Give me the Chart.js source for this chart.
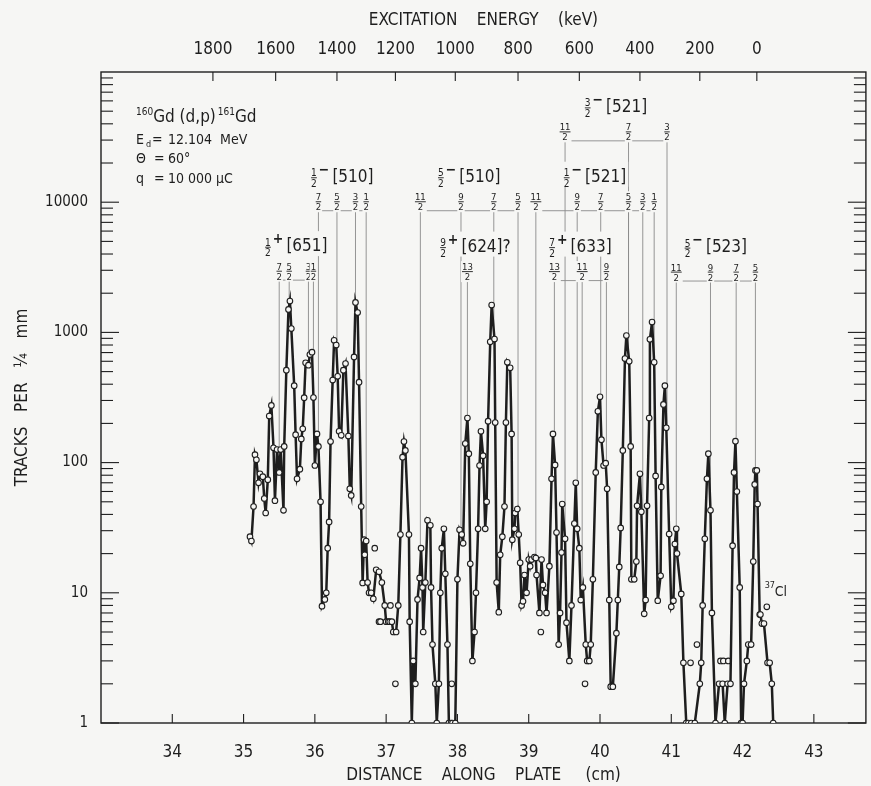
<!DOCTYPE html>
<html>
<head>
<meta charset="utf-8">
<title>160Gd(d,p)161Gd spectrum</title>
<script src="https://cdn.jsdelivr.net/npm/chart.js@4.4.1/dist/chart.umd.min.js"></script>
<style>
  html, body { margin: 0; padding: 0; background: #f6f6f4; }
  #wrap { width: 871px; height: 786px; position: relative; }
</style>
</head>
<body>
<div id="wrap"><canvas id="spectrum"></canvas></div>
<script>
// proton spectrum, counts per 1/4 mm strip of the plate
const plateCm = [
  35.09, 35.11, 35.14, 35.16, 35.18, 35.21, 35.23, 35.27, 35.29, 35.31, 35.34, 35.36, 35.39, 35.42, 35.44,
  35.47, 35.50, 35.52, 35.56, 35.57, 35.60, 35.63, 35.65, 35.67, 35.71, 35.73, 35.75, 35.79, 35.81, 35.83,
  35.85, 35.87, 35.91, 35.93, 35.96, 35.98, 36.00, 36.03, 36.05, 36.08, 36.10, 36.14, 36.16, 36.18, 36.20,
  36.22, 36.25, 36.27, 36.30, 36.32, 36.34, 36.37, 36.40, 36.43, 36.47, 36.49, 36.51, 36.55, 36.57, 36.60,
  36.62, 36.65, 36.67, 36.69, 36.70, 36.72, 36.74, 36.76, 36.79, 36.82, 36.86, 36.90, 36.94, 36.98, 37.00,
  37.03, 37.05, 37.08, 37.10, 37.14, 37.17, 37.20, 37.23, 37.25, 37.27, 37.32, 37.33, 37.36, 37.38, 37.41,
  37.44, 37.47, 37.49, 37.51, 37.52, 37.55, 37.58, 37.62, 37.63, 37.65, 37.69, 37.71, 37.74, 37.76, 37.78,
  37.81, 37.83, 37.86, 37.88, 37.91, 37.93, 37.97, 38.00, 38.03, 38.06, 38.08, 38.11, 38.14, 38.16, 38.18,
  38.21, 38.24, 38.26, 38.29, 38.31, 38.33, 38.36, 38.39, 38.41, 38.43, 38.46, 38.48, 38.52, 38.53, 38.55,
  38.58, 38.60, 38.63, 38.66, 38.68, 38.70, 38.74, 38.76, 38.77, 38.80, 38.81, 38.84, 38.86, 38.88, 38.90,
  38.92, 38.94, 38.97, 39.00, 39.02, 39.04, 39.08, 39.10, 39.11, 39.15, 39.18, 39.20, 39.23, 39.25, 39.29,
  39.32, 39.34, 39.37, 39.39, 39.42, 39.44, 39.46, 39.47, 39.51, 39.53, 39.57, 39.60, 39.64, 39.66, 39.68,
  39.71, 39.73, 39.76, 39.80, 39.82, 39.85, 39.87, 39.90, 39.94, 39.97, 40.00, 40.02, 40.05, 40.08, 40.10,
  40.13, 40.15, 40.18, 40.23, 40.25, 40.27, 40.29, 40.32, 40.35, 40.37, 40.41, 40.43, 40.44, 40.48, 40.51,
  40.52, 40.56, 40.58, 40.62, 40.64, 40.66, 40.69, 40.70, 40.73, 40.76, 40.78, 40.81, 40.85, 40.86, 40.89,
  40.91, 40.93, 40.97, 41.00, 41.03, 41.05, 41.07, 41.08, 41.14, 41.17, 41.21, 41.24, 41.28, 41.33, 41.40,
  41.42, 41.44, 41.47, 41.50, 41.52, 41.55, 41.57, 41.62, 41.67, 41.72, 41.75, 41.79, 41.83, 41.86, 41.88,
  41.90, 41.92, 41.96, 41.98, 42.00, 42.02, 42.06, 42.08, 42.12, 42.15, 42.17, 42.18, 42.20, 42.21, 42.24,
  42.25, 42.27, 42.30, 42.35, 42.38, 42.41, 42.43
];
const tracks = [
  27, 25, 46, 115, 105, 70, 82, 78, 53, 41, 74, 228, 275, 130, 51,
  126, 84, 126, 43, 133, 513, 1500, 1740, 1070, 390, 164, 75, 89, 152, 182,
  315, 584, 560, 676, 705, 316, 95, 166, 133, 50, 7.9, 8.9, 10, 22, 35,
  145, 430, 870, 800, 460, 174, 162, 513, 576, 160, 63, 56, 648, 1700, 1420,
  415, 46, 11.9, 25.6, 19.6, 25, 12, 10, 10, 9, 15, 14.5, 12, 8, 6,
  6, 6, 6, 5, 5, 8, 28, 110, 145, 124, 28, 6, 1, 3, 2,
  8.9, 13, 22, 11, 5, 12, 36, 33, 11, 4, 2, 1, 2, 10, 22,
  31, 14, 4, 1, 1, 1, 1, 12.7, 30.5, 28, 24, 140, 220, 117, 16.7,
  3, 5, 10, 31, 95, 174, 113, 31, 50, 208, 846, 1620, 890, 203, 12,
  7.1, 19.6, 27, 46, 203, 590, 535, 166, 25.6, 31, 41, 44, 28, 17, 8,
  8.6, 13.7, 10, 18, 16, 18, 18.8, 18.5, 13.7, 7, 18, 11.5, 10, 7, 16,
  75, 166, 96, 29, 4, 7, 20.4, 48, 26, 5.9, 3, 8, 34, 70, 31,
  22, 8.8, 11, 4, 3, 3, 4, 12.7, 84, 248, 320, 150, 95, 99, 63,
  8.8, 1.9, 1.9, 4.9, 8.8, 15.8, 31.5, 124, 630, 945, 600, 133, 12.7, 12.7, 17.4,
  46.6, 82, 42, 6.9, 8.8, 46.6, 220, 886, 1200, 590, 79, 8.7, 13.5, 65, 280,
  390, 185, 28.3, 7.8, 8.7, 23.7, 31, 20, 9.8, 2.9, 1, 1, 1, 1, 2,
  2.9, 8, 26, 75, 117, 43, 7, 1, 2, 2, 1, 2, 2, 23, 84,
  146, 60, 11, 1, 1, 2, 3, 4, 4, 17.4, 68, 87, 87, 48, 6.8,
  6.8, 5.8, 5.8, 2.9, 2.9, 2, 1
];
// single counts plotted without a connecting line
const strayCm = [36.84, 36.90, 36.92, 37.06, 37.13, 37.92, 39.17, 39.79, 41.27, 41.36, 41.69, 41.73, 41.80, 42.34];
const strayTracks = [22, 6, 6, 8, 2, 2, 5, 2, 2.9, 4, 3, 3, 3, 7.8];

const distanceTicks = [34, 35, 36, 37, 38, 39, 40, 41, 42, 43];
const energyTicks = [1800, 1600, 1400, 1200, 1000, 800, 600, 400, 200, 0];
const energyTickCm = [34.57, 35.45, 36.31, 37.13, 37.97, 38.85, 39.71, 40.56, 41.40, 42.20];
const trackTicks = [1, 10, 100, 1000, 10000];

// rotational bands: K, parity, Nilsson label, level positions and spins
const bandK = ['1/2', '1/2', '5/2', '9/2', '1/2', '3/2', '7/2', '5/2'];
const bandParity = ['+', '\u2212', '\u2212', '+', '\u2212', '\u2212', '+', '\u2212'];
const bandNilsson = ['[651]', '[510]', '[510]', '[624]?', '[521]', '[521]', '[633]', '[523]'];
const bandBarTracks = [2520, 8600, 8600, 2500, 8600, 29600, 2500, 2480];
const bandLevelCm = [
  [35.50, 35.64, 35.91, 35.98],
  [36.05, 36.31, 36.57, 36.72],
  [37.48, 38.05, 38.51, 38.85],
  [38.14],
  [39.10, 39.68, 40.01, 40.40, 40.60, 40.76],
  [39.51, 40.40, 40.94],
  [39.36, 39.75, 40.09],
  [41.07, 41.55, 41.91, 42.18]
];
const bandSpins = [
  ['7/2', '5/2', '3/2', '1/2'],
  ['7/2', '5/2', '3/2', '1/2'],
  ['11/2', '9/2', '7/2', '5/2'],
  ['13/2'],
  ['11/2', '9/2', '7/2', '5/2', '3/2', '1/2'],
  ['11/2', '7/2', '3/2'],
  ['13/2', '11/2', '9/2'],
  ['11/2', '9/2', '7/2', '5/2']
];
const clLabelCm = 42.31;
const clLabelTracks = 10.5;

const ink = '#1e1e1e';
const paper = '#f6f6f4';
const guide = '#8a8a8a';
const face = "'DejaVu Sans Condensed', 'DejaVu Sans', sans-serif";
const axisFont = { family: face, size: 17 };
const valueFont = { family: face, size: 15 };

function line(ctx, x1, y1, x2, y2) {
  ctx.beginPath();
  ctx.moveTo(x1, y1);
  ctx.lineTo(x2, y2);
  ctx.stroke();
}

// highest count within one strip of a level position
function peakNear(cm) {
  let best = null, nearest = 0, gap = Infinity;
  plateCm.forEach((v, i) => {
    const d = Math.abs(v - cm);
    if (d <= 0.026 && (best === null || tracks[i] > best)) best = tracks[i];
    if (d < gap) { gap = d; nearest = tracks[i]; }
  });
  return best === null ? nearest : best;
}

function drawFraction(ctx, text, cx, cy, size, mask) {
  const [num, den] = text.split('/');
  ctx.font = `${size}px ${face}`;
  const w = Math.max(ctx.measureText(num).width, ctx.measureText(den).width);
  if (mask) {
    ctx.fillStyle = paper;
    ctx.fillRect(cx - w / 2 - 1, cy - size - 1, w + 2, size * 2 + 2);
  }
  ctx.fillStyle = ink;
  ctx.textAlign = 'center';
  ctx.textBaseline = 'alphabetic';
  ctx.fillText(num, cx, cy - 1.5);
  ctx.fillRect(cx - w / 2, cy - 0.4, w, 0.9);
  ctx.fillText(den, cx, cy + size * 0.75 + 1.5);
  return w;
}

function drawBandTitle(ctx, k, parity, nilsson, cx, cy) {
  ctx.font = `10px ${face}`;
  const [n, d] = k.split('/');
  const fw = Math.max(ctx.measureText(n).width, ctx.measureText(d).width);
  ctx.font = `bold 14px ${face}`;
  const pw = ctx.measureText(parity).width;
  ctx.font = `17px ${face}`;
  const nw = ctx.measureText(nilsson).width;
  const total = fw + pw + nw + 5;
  const x0 = cx - total / 2;
  ctx.fillStyle = paper;
  ctx.fillRect(x0 - 2, cy - 13, total + 4, 25);
  drawFraction(ctx, k, x0 + fw / 2, cy + 3, 10, false);
  ctx.textAlign = 'left';
  ctx.font = `bold 14px ${face}`;
  ctx.fillText(parity, x0 + fw + 2, cy - 1);
  ctx.font = `17px ${face}`;
  ctx.fillText(nilsson, x0 + fw + pw + 5, cy + 7);
}

const platePlugin = {
  id: 'plate',
  beforeDraw(chart) {
    const { ctx, width, height } = chart;
    ctx.save();
    ctx.fillStyle = paper;
    ctx.fillRect(0, 0, width, height);
    ctx.restore();
  },
  beforeDatasetsDraw(chart) {
    const { ctx, chartArea } = chart;
    const { left, right, top, bottom } = chartArea;
    const x = chart.scales.x, xt = chart.scales.xTop, y = chart.scales.y;
    ctx.save();
    ctx.strokeStyle = ink;
    ctx.lineWidth = 1.4;
    ctx.strokeRect(left, top, right - left, bottom - top);

    // inward tick marks on all four sides
    ctx.lineWidth = 1.1;
    distanceTicks.forEach(v => {
      const px = x.getPixelForValue(v);
      line(ctx, px, bottom, px, bottom - 9);
    });
    energyTickCm.forEach(v => {
      const px = xt.getPixelForValue(v);
      line(ctx, px, top, px, top + 9);
    });
    for (let d = 1; d < 1e5; d *= 10) {
      for (let m = 1; m <= 9; m++) {
        const py = y.getPixelForValue(d * m);
        const len = m === 1 ? 18 : 12;
        line(ctx, left, py, left + len, py);
        line(ctx, right, py, right - len, py);
      }
    }

    // level markers: bar over each band and a drop line to its peak
    ctx.strokeStyle = guide;
    ctx.lineWidth = 0.9;
    bandLevelCm.forEach((levels, b) => {
      const barPx = y.getPixelForValue(bandBarTracks[b]);
      const pxs = levels.map(v => x.getPixelForValue(v));
      if (pxs.length > 1) line(ctx, Math.min(...pxs), barPx, Math.max(...pxs), barPx);
      levels.forEach((v, i) => {
        const py = y.getPixelForValue(peakNear(v)) - 3;
        line(ctx, pxs[i], barPx, pxs[i], py);
      });
    });
    ctx.restore();
  },
  afterDatasetsDraw(chart) {
    const { ctx, chartArea } = chart;
    const x = chart.scales.x, y = chart.scales.y;
    ctx.save();
    bandLevelCm.forEach((levels, b) => {
      const barPx = y.getPixelForValue(bandBarTracks[b]);
      const pxs = levels.map(v => x.getPixelForValue(v));
      levels.forEach((v, i) => drawFraction(ctx, bandSpins[b][i], pxs[i], barPx - 9, 9.5, true));
      let cx = (Math.min(...pxs) + Math.max(...pxs)) / 2;
      if (pxs.length === 1) cx += 8;
      drawBandTitle(ctx, bandK[b], bandParity[b], bandNilsson[b], cx, barPx - 36);
    });

    // reaction and run conditions
    const tx = chartArea.left + 35;
    const ty = chartArea.top + 50;
    ctx.fillStyle = ink;
    ctx.textAlign = 'left';
    ctx.textBaseline = 'alphabetic';
    let cx = tx;
    const piece = (text, size, dy) => {
      ctx.font = `${size}px ${face}`;
      ctx.fillText(text, cx, ty + dy);
      cx += ctx.measureText(text).width;
    };
    piece('160', 10, -7);
    piece('Gd (d,p)', 17, 0);
    cx += 2;
    piece('161', 10, -7);
    piece('Gd', 17, 0);

    ctx.font = `14px ${face}`;
    ctx.fillText('E', tx, ty + 22);
    ctx.font = `9px ${face}`;
    ctx.fillText('d', tx + 10, ty + 25);
    ctx.font = `14px ${face}`;
    ctx.fillText('=', tx + 16, ty + 22);
    ctx.fillText('12.104  MeV', tx + 32, ty + 22);
    ctx.fillText('\u0398', tx, ty + 41);
    ctx.fillText('=', tx + 18, ty + 41);
    ctx.fillText('60\u00b0', tx + 32, ty + 41);
    ctx.fillText('q', tx, ty + 61);
    ctx.fillText('=', tx + 18, ty + 61);
    ctx.fillText('10 000 \u00b5C', tx + 32, ty + 61);

    // chlorine contaminant peak
    const lx = x.getPixelForValue(clLabelCm);
    const ly = y.getPixelForValue(clLabelTracks);
    ctx.font = `9px ${face}`;
    ctx.fillText('37', lx, ly - 2);
    ctx.font = `14px ${face}`;
    ctx.fillText('Cl', lx + 10, ly + 6);
    ctx.restore();
  }
};

const hiddenGrid = { display: false, drawTicks: false };

new Chart(document.getElementById('spectrum'), {
  type: 'line',
  data: {
    datasets: [
      {
        label: 'tracks',
        data: plateCm.map((v, i) => ({ x: v, y: tracks[i] })),
        borderColor: ink,
        borderWidth: 2.5,
        pointRadius: 2.8,
        pointBackgroundColor: paper,
        pointBorderColor: ink,
        pointBorderWidth: 1.1,
        tension: 0
      },
      {
        label: 'stray',
        data: strayCm.map((v, i) => ({ x: v, y: strayTracks[i] })),
        showLine: false,
        pointRadius: 2.8,
        pointBackgroundColor: paper,
        pointBorderColor: ink,
        pointBorderWidth: 1.1
      }
    ]
  },
  options: {
    responsive: true,
    maintainAspectRatio: false,
    animation: false,
    layout: { padding: { left: 0, right: 3, top: 0, bottom: 0 } },
    plugins: { legend: { display: false }, tooltip: { enabled: false } },
    scales: {
      x: {
        type: 'linear',
        position: 'bottom',
        min: 33,
        max: 43.73,
        grid: hiddenGrid,
        border: { display: false },
        afterBuildTicks: s => { s.ticks = distanceTicks.map(v => ({ value: v })); },
        afterFit: s => { s.height = 63; },
        ticks: { color: ink, font: axisFont, padding: 19, maxRotation: 0, callback: v => String(v) },
        title: {
          display: true, text: 'DISTANCE    ALONG    PLATE     (cm)', color: ink, font: axisFont,
          padding: { top: 0, bottom: 0 }
        }
      },
      xTop: {
        type: 'linear',
        position: 'top',
        min: 33,
        max: 43.73,
        grid: hiddenGrid,
        border: { display: false },
        afterBuildTicks: s => { s.ticks = energyTickCm.map(v => ({ value: v })); },
        afterFit: s => { s.height = 72; },
        ticks: { color: ink, font: axisFont, padding: 12, maxRotation: 0, callback: (v, i) => String(energyTicks[i]) },
        title: {
          display: true, text: 'EXCITATION    ENERGY    (keV)', color: ink, font: axisFont,
          padding: { top: 10, bottom: 0 }
        }
      },
      y: {
        type: 'logarithmic',
        position: 'left',
        min: 1,
        max: 100000,
        grid: hiddenGrid,
        border: { display: false },
        afterBuildTicks: s => { s.ticks = trackTicks.map(v => ({ value: v })); },
        afterFit: s => { s.width = 101; },
        ticks: { color: ink, font: valueFont, padding: 13, callback: v => String(v) },
        title: {
          display: true, text: 'TRACKS   PER   \u00bc   mm', color: ink, font: axisFont,
          padding: { top: 12, bottom: 0 }
        }
      }
    }
  },
  plugins: [platePlugin]
});
</script>
</body>
</html>
